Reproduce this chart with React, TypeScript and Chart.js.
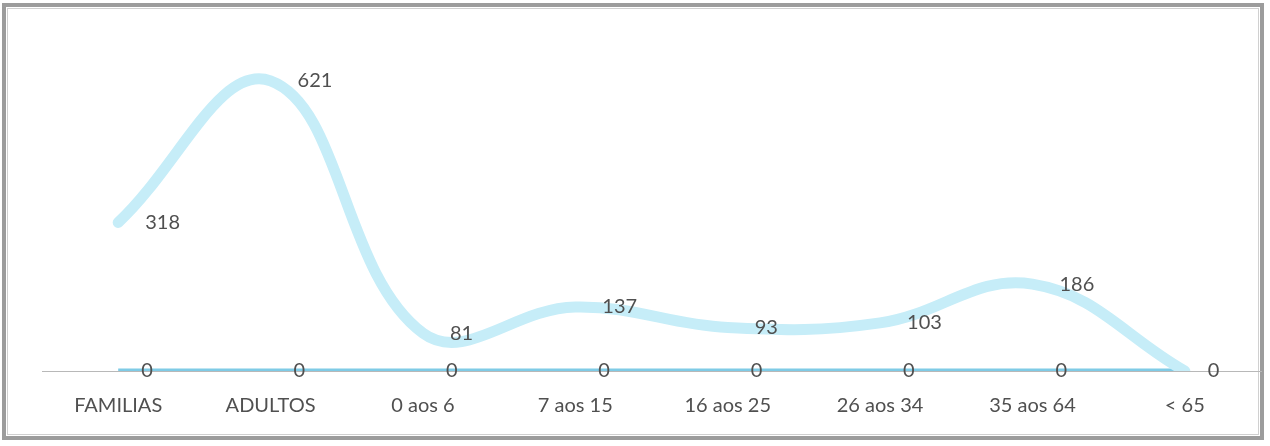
import React, { useEffect, useRef } from "react";
import { Chart, registerables } from "chart.js";

Chart.register(...registerables);

const categories = ["FAMILIAS", "ADULTOS", "0 aos 6", "7 aos 15", "16 aos 25", "26 aos 34", "35 aos 64", "< 65"];
const mainValues = [318, 621, 81, 137, 93, 103, 186, 0];
const zeroValues = [0, 0, 0, 0, 0, 0, 0, 0];

const labelPlugin = {
  id: "rightLabels",
  afterDatasetsDraw(chart: any) {
    const ctx = chart.ctx;
    ctx.save();
    ctx.font = "20px Lato, 'Open Sans', sans-serif";
    ctx.fillStyle = "#505050";
    ctx.textAlign = "left";
    ctx.textBaseline = "middle";
    chart.data.datasets.forEach((ds: any, di: number) => {
      const meta = chart.getDatasetMeta(di);
      meta.data.forEach((pt: any, i: number) => {
        if (di === 0 && ds.data[i] === 0) return;
        const offset = di === 0 ? 27 : 23;
        ctx.fillText(String(ds.data[i]), pt.x + offset, pt.y);
      });
    });
    ctx.restore();
  },
};

export default function App() {
  const ref = useRef<HTMLCanvasElement>(null);
  useEffect(() => {
    if (!ref.current) return;
    const chart = new Chart(ref.current, {
      type: "line",
      data: {
        labels: categories,
        datasets: [
          {
            data: mainValues,
            borderColor: "#c6edf8",
            borderWidth: 11,
            borderCapStyle: "round",
            tension: 0.4,
            pointRadius: 0,
            fill: false,
          },
          {
            data: zeroValues,
            borderColor: "#7fcbe6",
            borderWidth: 5,
            borderCapStyle: "butt",
            tension: 0.4,
            pointRadius: 0,
            fill: false,
          },
        ],
      },
      options: {
        animation: false,
        responsive: false,
        maintainAspectRatio: false,
        layout: { padding: { left: 42, right: 9, top: 44, bottom: 5 } },
        plugins: { legend: { display: false }, tooltip: { enabled: false } },
        scales: {
          x: {
            offset: true,
            grid: { display: false, drawTicks: false },
            border: { display: true, color: "#b8b8b8", width: 1 },
            ticks: {
              color: "#505050",
              font: { family: "Lato, 'Open Sans', sans-serif", size: 20 },
              padding: 23,
              autoSkip: false,
              maxRotation: 0,
            },
          },
          y: { display: false, min: 0, max: 700 },
        },
      },
      plugins: [labelPlugin],
    });
    return () => chart.destroy();
  }, []);
  return (
    <div style={{ position: "fixed", left: 0, top: 0, width: 1270, height: 446, background: "#fff" }}>
      <div
        style={{
          position: "absolute",
          left: 2,
          top: 3,
          width: 1262,
          height: 437,
          border: "4px solid #9c9c9c",
          boxSizing: "border-box",
        }}
      />
      <div
        style={{
          position: "absolute",
          left: 7,
          top: 8,
          width: 1252,
          height: 427,
          border: "1px solid #d0d0d0",
          boxSizing: "border-box",
        }}
      />
      <canvas ref={ref} width={1270} height={446} style={{ position: "absolute", left: 0, top: 0 }} />
    </div>
  );
}
